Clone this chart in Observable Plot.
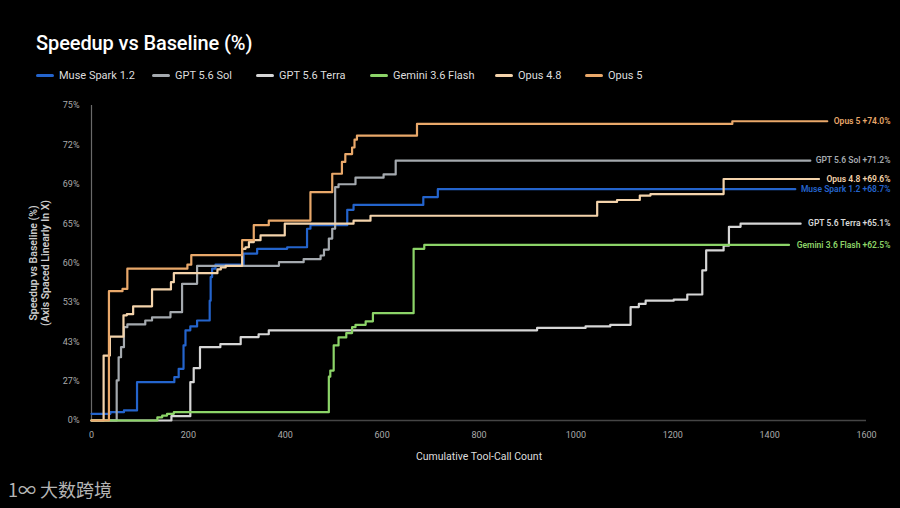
<!DOCTYPE html>
<html><head><meta charset="utf-8">
<script src="https://cdn.jsdelivr.net/npm/d3@7"></script>
<script src="https://cdn.jsdelivr.net/npm/@observablehq/plot@0.6"></script>
<style>
body{margin:0;background:#000;width:900px;height:508px;overflow:hidden;position:relative;font-family:Roboto,"Noto Sans",sans-serif}
#title{position:absolute;left:36px;top:31px;color:#fff;font-size:20px;font-weight:500;letter-spacing:-0.1px}
#legend{position:absolute;left:0;top:69px;width:900px;height:16px;font-size:11px;color:#ddd}
#legend .it{position:absolute;top:0;display:flex;align-items:center;white-space:nowrap}
#legend .sw{display:inline-block;width:18px;height:3px;border-radius:2px;margin-right:5px}
#chart{position:absolute;left:0;top:95px}
#wm{position:absolute;left:8px;top:476px;color:#b5b5b5;font-size:18px;font-family:"Noto Sans CJK SC",sans-serif}
</style></head>
<body>
<div id="title">Speedup vs Baseline (%)</div>
<div id="legend"></div>
<div id="chart"></div>
<div id="wm">1∞ 大数跨境</div>
<script>
const yTicks = [0, 27, 43, 53, 60, 65, 69, 72, 75];
const xTicks = [0, 200, 400, 600, 800, 1000, 1200, 1400, 1600];
const seriesNames = ["Muse Spark 1.2", "GPT 5.6 Sol", "GPT 5.6 Terra", "Gemini 3.6 Flash", "Opus 4.8", "Opus 5"];
const seriesColors = ["#2464cc", "#a4a9ae", "#d6d6d6", "#8cd468", "#f4d3ab", "#e9a86a"];
const labelTexts = ["Muse Spark 1.2 +68.7%", "GPT 5.6 Sol +71.2%", "GPT 5.6 Terra +65.1%", "Gemini 3.6 Flash +62.5%", "Opus 4.8 +69.6%", "Opus 5 +74.0%"];
const legendLeft = [36, 152, 256, 370, 495, 585];

const museX = [0, 39, 67, 94, 171, 180, 190, 194, 204, 218, 244, 246, 249, 256, 314, 342, 404, 445, 452, 528, 541, 685, 715, 1453];
const museY = [4.6, 5.7, 6.9, 26.3, 28.6, 32.0, 41.5, 45.9, 46.9, 48.4, 53.3, 57.5, 59.0, 59.7, 61.2, 61.8, 62.0, 64.35, 64.8, 66.4, 66.9, 67.7, 68.5, 68.5];

const solX = [0, 52, 56, 61, 67, 74, 111, 125, 163, 187, 218, 387, 438, 473, 480, 490, 497, 503, 510, 545, 603, 628, 1484];
const solY = [0, 27.3, 36.7, 40.8, 46.7, 47.4, 48.4, 49.2, 50.5, 56.3, 59.5, 60.1, 60.5, 60.95, 61.7, 63.1, 64.35, 68.7, 69.0, 69.5, 69.75, 70.8, 70.8];

const terraX = [0, 165, 204, 211, 224, 266, 308, 345, 366, 920, 1020, 1071, 1113, 1130, 1144, 1202, 1230, 1261, 1269, 1305, 1316, 1340, 1464];
const terraY = [0, 3.0, 26.3, 32.3, 40.8, 42.0, 44.2, 44.9, 45.9, 46.5, 46.9, 47.3, 51.8, 52.6, 53.3, 53.5, 54.4, 58.7, 61.6, 62.2, 64.6, 65.0, 65.0];

const geminiX = [0, 136, 146, 156, 170, 490, 493, 500, 510, 526, 538, 545, 566, 581, 665, 687, 1440];
const geminiY = [0, 2.2, 3.4, 4.6, 5.7, 28.8, 31.3, 41.5, 44.1, 45.2, 46.7, 47.3, 48.2, 50.25, 61.8, 62.3, 62.3];

const opus48X = [0, 25, 38, 66, 73, 86, 125, 164, 170, 260, 267, 277, 311, 318, 325, 335, 349, 399, 541, 576, 1044, 1085, 1132, 1154, 1305, 1502];
const opus48Y = [0, 37.4, 44.3, 49.7, 50.0, 52.0, 55.3, 56.6, 58.2, 58.85, 59.2, 59.5, 61.8, 62.0, 62.65, 62.9, 63.5, 65.0, 65.3, 65.8, 67.2, 67.4, 67.85, 68.0, 69.4, 69.4];

const opus5X = [0, 36, 64, 74, 198, 206, 311, 335, 366, 452, 497, 517, 524, 538, 543, 548, 672, 1323, 1519];
const opus5Y = [0, 55.0, 55.4, 59.0, 59.7, 61.0, 62.9, 64.8, 65.3, 68.2, 69.8, 70.7, 71.3, 71.8, 72.4, 72.7, 73.6, 73.8, 73.8];

const allX = [museX, solX, terraX, geminiX, opus48X, opus5X];
const allY = [museY, solY, terraY, geminiY, opus48Y, opus5Y];

// y axis is evenly spaced between uneven tick values: map percent -> tick index (piecewise linear)
const yIndex = d3.scaleLinear().domain(yTicks).range(yTicks.map((_, i) => i));

const rows = [];
seriesNames.forEach((name, i) => {
  allX[i].forEach((x, j) => rows.push({series: name, x, y: allY[i][j]}));
});
const endRows = seriesNames.map((name, i) => ({series: name, y: allY[i][allY[i].length - 1], label: labelTexts[i]}));

// legend
const leg = document.getElementById("legend");
seriesNames.forEach((n, i) => {
  const it = document.createElement("div"); it.className = "it"; it.style.left = legendLeft[i] + "px";
  const sw = document.createElement("span"); sw.className = "sw"; sw.style.background = seriesColors[i];
  const tx = document.createElement("span"); tx.textContent = n;
  it.appendChild(sw); it.appendChild(tx); leg.appendChild(it);
});

const chart = Plot.plot({
  width: 900, height: 385,
  marginTop: 10, marginLeft: 91, marginRight: 34, marginBottom: 60,
  style: {background: "transparent", color: "#aaa", fontFamily: "Roboto, sans-serif"},
  x: {domain: [0, 1600]},
  y: {domain: [0, yTicks.length - 1]},
  color: {domain: seriesNames, range: seriesColors},
  marks: [
    Plot.ruleY([0], {stroke: "#454545", strokeWidth: 1.5}),
    Plot.ruleX([0], {stroke: "#6a6a6a", strokeWidth: 1.2}),
    Plot.axisX({ticks: xTicks, tickFormat: d => String(d), tickSize: 0, tickPadding: 11, fontSize: 9, fill: "#aaa", label: null}),
    Plot.axisY({ticks: yTicks.map((_, i) => i), tickFormat: i => yTicks[i] + "%", tickSize: 0, tickPadding: 12, fontSize: 9, fill: "#aaa", label: null}),
    Plot.line(rows, {x: "x", y: d => yIndex(d.y), z: "series", stroke: "series", curve: "step-after", strokeWidth: 2.2}),
    Plot.text(endRows, {y: d => yIndex(d.y), text: "label", fill: "series", frameAnchor: "right", dx: 24, textAnchor: "end", fontSize: 8.5, fontWeight: 600}),
    Plot.text(["Cumulative Tool-Call Count"], {frameAnchor: "bottom", dy: 39, fill: "#ddd", fontSize: 10.5}),
    Plot.text(["Speedup vs Baseline (%)"], {frameAnchor: "left", dx: -58, rotate: -90, textAnchor: "middle", fill: "#ccc", fontSize: 10.5, fontWeight: 600}),
    Plot.text(["(Axis Spaced Linearly In X)"], {frameAnchor: "left", dx: -46, rotate: -90, textAnchor: "middle", fill: "#ccc", fontSize: 10.5, fontWeight: 600})
  ]
});
document.getElementById("chart").appendChild(chart);
</script>
</body></html>
